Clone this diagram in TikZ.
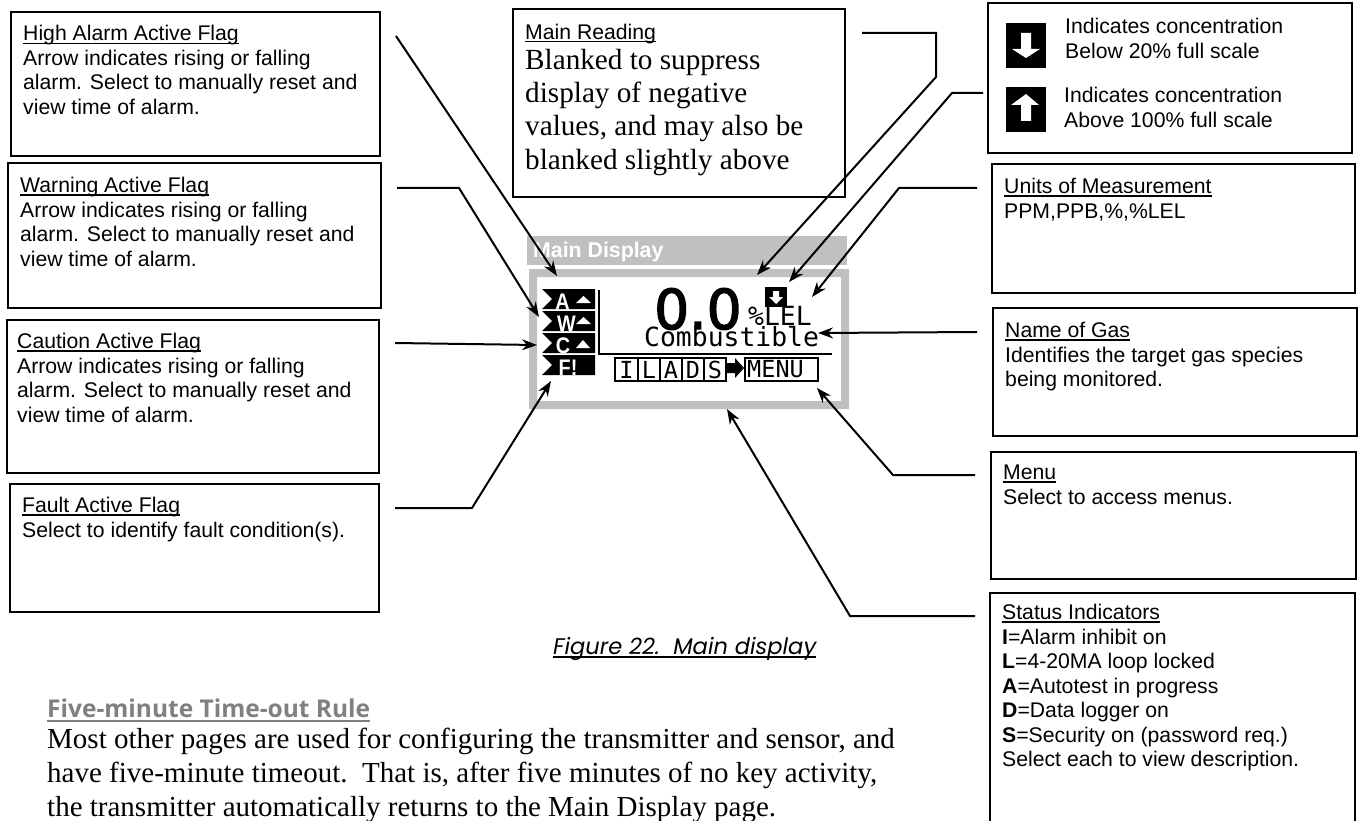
\documentclass[tikz,border=0pt]{standalone}
\usepackage{graphicx}
\usepackage{fontspec}
\setmainfont{Liberation Sans}
\newfontfamily\serifb{Liberation Serif}
\newfontfamily\monob{DejaVu Sans Mono}
\newfontfamily\dejav[FakeBold=2.5]{DejaVu Sans}
\newfontfamily\headf{Open Sans}
\newfontfamily\capf{Poppins}
\usetikzlibrary{arrows.meta}
\definecolor{lcdgray}{HTML}{C0C0C0}
\definecolor{headgray}{HTML}{808080}
\newcommand{\pxf}[2]{\fontsize{#1}{#2}\selectfont}
\newcommand{\flagl}[1]{\scalebox{.88}[1]{#1}}
\newsavebox{\ulbox}
\newcommand{\ulxx}[3]{\sbox{\ulbox}{#3}\leavevmode\rlap{\rule[-#1]{\wd\ulbox}{#2}}\usebox{\ulbox}}
\newcommand{\ulx}[1]{\ulxx{3pt}{1.3pt}{#1}}
\tikzset{
 x=1pt,y=-1pt,
 callout/.style={draw=black,line width=2pt,fill=white,inner sep=0pt},
 lbl/.style={anchor=north west,inner sep=0pt,align=left,font=\pxf{21.2}{24.5},execute at begin node=\strut},
 leader/.style={draw=black,line width=2pt,-{Stealth[length=15pt,width=11pt]}},
 lcdbtn/.style={draw=black,line width=2pt,anchor=north west,inner sep=0pt,minimum height=23pt,font=\monob\pxf{23.5}{23.5}},
 flagt/.style={anchor=base,text=white,font=\bfseries\pxf{22.5}{22.5},inner sep=0pt},
 bodyt/.style={anchor=base west,inner sep=0pt,font=\serifb\pxf{29}{33.5}},
}
\begin{document}
\begin{tikzpicture}
\useasboundingbox (0,0) rectangle (1359,821);
\fill[white] (0,0) rectangle (1359,821);
\clip (0,0) rectangle (1359,821);
% callout boxes
\draw[callout] (11,12) rectangle (380,156);
\draw[callout] (8,163) rectangle (381,308);
\draw[callout] (7,320) rectangle (379,473);
\draw[callout] (10,484) rectangle (379,612);
\draw[callout] (513,9) rectangle (845,197);
\draw[callout] (988,3) rectangle (1352,153);
\draw[callout] (992,164) rectangle (1355,293);
\draw[callout] (993,308) rectangle (1357,436);
\draw[callout] (991,452) rectangle (1356,579);
\draw[callout] (990,593) rectangle (1355,830);
% texts
\node[lbl] (t1) at (23,25.3) {\ulx{High Alarm Active Flag}\\Arrow indicates rising or falling\\alarm. Select to manually reset and\\view time of alarm.};
\node[lbl] (t2) at (20,177) {\ulx{Warning Active Flag}\\Arrow indicates rising or falling\\alarm. Select to manually reset and\\view time of alarm.};
\node[lbl] (t3) at (17,333) {\ulx{Caution Active Flag}\\Arrow indicates rising or falling\\alarm. Select to manually reset and\\view time of alarm.};
\node[lbl] (t4) at (22,497) {\ulx{Fault Active Flag}\\Select to identify fault condition(s).};
\node[lbl] (t5a) at (525,22) {\ulx{Main Reading}};
\node[lbl,font=\serifb\pxf{29.2}{33.4}] (t5b) at (525,48.6) {Blanked to suppress\\display of negative\\values, and may also be\\blanked slightly above};
\node[lbl] (t6a) at (1065,18) {Indicates concentration\\Below 20\% full scale};
\node[lbl] (t6b) at (1064,87) {Indicates concentration\\Above 100\% full scale};
\node[lbl] (t7) at (1004,178) {\ulx{Units of Measurement}\\PPM,PPB,\%,\%LEL};
\node[lbl] (t8) at (1005,322) {\ulx{Name of Gas}\\Identifies the target gas species\\being monitored.};
\node[lbl] (t9) at (1003,465) {\ulx{Menu}\\Select to access menus.};
\node[lbl] (t10) at (1002,604) {\ulx{Status Indicators}\\\textbf{I}=Alarm inhibit on\\\textbf{L}=4-20MA loop locked\\\textbf{A}=Autotest in progress\\\textbf{D}=Data logger on\\\textbf{S}=Security on (password req.)\\Select each to view description.};
% icons in legend
\fill[black] (1006,23) rectangle (1046,68);
\fill[white] (1021,33) -- (1031,33) -- (1031,49) -- (1040,49) -- (1026,58) -- (1012,49) -- (1021,49) -- cycle;
\fill[black] (1006,87) rectangle (1046,132);
\fill[white] (1021,121) -- (1031,121) -- (1031,105) -- (1039,105) -- (1026,94) -- (1011,105) -- (1021,105) -- cycle;
% display
\fill[lcdgray] (527,236) rectangle (847,265);
\node[anchor=base west,inner sep=0pt,text=white,font=\bfseries\pxf{21.3}{21.3}] (title) at (533,257) {Main Display};
\fill[lcdgray,even odd rule] (529,269) rectangle (849,409) (537,277) rectangle (841,401);
% flags
\foreach \yy in {289,311,333,355}{
 \fill[black] (542,\yy) -- (595,\yy) -- (595,\yy+20) -- (542,\yy+20) -- (552,\yy+10) -- cycle;
}
\node[flagt] (fa) at (562.5,309) {\flagl{A}};
\node[flagt] (fw) at (566.5,331) {\flagl{W}};
\node[flagt] (fc) at (563,353) {\flagl{C}};
\node[flagt] (ff) at (568,375) {\flagl{F!}};
\fill[white] (576,303) -- (591,303) -- (583.5,296) -- cycle;
\fill[white] (576,324) -- (591,324) -- (583.5,317) -- cycle;
\fill[white] (576,348) -- (590,348) -- (583,340) -- cycle;
\draw[black,line width=2pt] (599,290) -- (599,354) -- (832,354);
\node[lcdbtn,minimum width=23pt] (bi) at (614,357) {I};
\node[lcdbtn,minimum width=22pt] (bl) at (637,357) {L};
\node[lcdbtn,minimum width=22pt] (ba) at (659,357) {A};
\node[lcdbtn,minimum width=22pt] (bd) at (681,357) {D};
\node[lcdbtn,minimum width=22pt] (bs) at (703,357) {S};
\node[lcdbtn,minimum width=73pt] (bm) at (744,357) {MENU\kern12pt};
\fill[black] (727,363) -- (735,363) -- (735,358) -- (744,368) -- (735,378) -- (735,373) -- (727,373) -- cycle;
\node[anchor=base west,inner sep=0pt,font=\dejav\pxf{55}{55}] (reading) at (654,329) {0.0};
\node[anchor=base west,inner sep=0pt,font=\monob\pxf{26.4}{26.4}] (unit) at (748,325) {\%LEL};
\node[anchor=base west,inner sep=0pt,font=\monob\pxf{26.4}{26.4}] (gas) at (644,346) {Combustible};
\fill[black] (765,287) rectangle (787,307);
\fill[white] (773,291) -- (779,291) -- (779,297) -- (783,297) -- (776,304) -- (769,297) -- (773,297) -- cycle;
% leaders
\coordinate (a1) at (396,36); \coordinate (e1) at (557,276);
\coordinate (a2) at (397,188); \coordinate (a2b) at (459,188); \coordinate (e2) at (539,317);
\coordinate (a3) at (395,343); \coordinate (e3) at (537,345);
\coordinate (a4) at (395,508); \coordinate (a4b) at (472,508); \coordinate (e4) at (551,381);
\coordinate (a5) at (862,33); \coordinate (a5b) at (936,33); \coordinate (a5c) at (936,77); \coordinate (e5) at (757,275);
\coordinate (a6) at (983,93); \coordinate (a6b) at (952,93); \coordinate (e6) at (789,282);
\coordinate (a7) at (977,188); \coordinate (a7b) at (899,188); \coordinate (e7) at (812,297);
\coordinate (a8) at (977,332); \coordinate (e8) at (818,333);
\coordinate (a9) at (975,475); \coordinate (a9b) at (893,475); \coordinate (e9) at (817,388);
\coordinate (a10) at (975,616); \coordinate (a10b) at (850,616); \coordinate (e10) at (727,409);
\draw[leader] (a1) -- (e1);
\draw[leader] (a2) -- (a2b) -- (e2);
\draw[leader] (a3) -- (e3);
\draw[leader] (a4) -- (a4b) -- (e4);
\draw[leader] (a5) -- (a5b) -- (a5c) -- (e5);
\draw[leader] (a6) -- (a6b) -- (e6);
\draw[leader] (a7) -- (a7b) -- (e7);
\draw[leader] (a8) -- (e8);
\draw[leader] (a9) -- (a9b) -- (e9);
\draw[leader] (a10) -- (a10b) -- (e10);
% bottom
\node[anchor=base west,inner sep=0pt,font=\capf\itshape\pxf{22.6}{22.6}] (cap) at (553,654) {\ulxx{4pt}{2pt}{Figure 22.\ \ Main display}};
\node[anchor=base west,inner sep=0pt,text=headgray,font=\headf\bfseries\pxf{24.5}{24.5}] (head) at (47,717) {\ulxx{5pt}{2.5pt}{Five-minute Time-out Rule}};
\node[bodyt] (body) at (47,748) {Most other pages are used for configuring the transmitter and sensor, and};
\node[bodyt] (body2) at (47,782) {have five-minute timeout.\ \ That is, after five minutes of no key activity,};
\node[bodyt] (body3) at (47,816) {the transmitter automatically returns to the Main Display page.};
\end{tikzpicture}
\end{document}
